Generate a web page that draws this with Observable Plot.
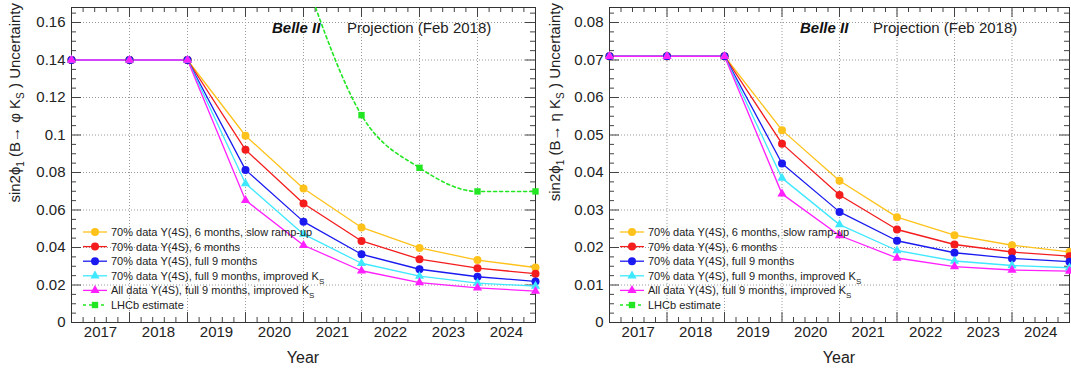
<!DOCTYPE html>
<html><head><meta charset="utf-8">
<script src="https://cdn.jsdelivr.net/npm/d3@7"></script>
<script src="https://cdn.jsdelivr.net/npm/@observablehq/plot@0.6"></script>
<style>
body{margin:0;background:#fff;}
#wrap{display:flex;width:1071px;height:371px;overflow:hidden;}
#wrap svg{display:block;flex:none;}
</style>
</head><body><div id="wrap"></div>
<script>
// ---------- data ----------
const pointYears = [2016.5, 2017.5, 2018.5, 2019.5, 2020.5, 2021.5, 2022.5, 2023.5, 2024.5];
const yearLabels = [2017, 2018, 2019, 2020, 2021, 2022, 2023, 2024];
const seriesNames = [
  "70% data Υ(4S), 6 months, slow ramp-up",
  "70% data Υ(4S), 6 months",
  "70% data Υ(4S), full 9 months",
  "70% data Υ(4S), full 9 months, improved K_S",
  "All data Υ(4S), full 9 months, improved K_S",
  "LHCb estimate"
];
const seriesColors = ["#ffc21a", "#f41c1c", "#1a1af0", "#3ee8ff", "#ff1fff", "#22e622"];
const seriesSymbols = ["circle", "circle", "circle", "triangle", "triangle", "square"];

// sin2phi1 (B -> phi Ks)
const phiSlow   = [0.140, 0.140, 0.140, 0.0996, 0.0715, 0.0507, 0.0398, 0.0333, 0.0293];
const phi6m     = [0.140, 0.140, 0.140, 0.0921, 0.0635, 0.0435, 0.0338, 0.0290, 0.0260];
const phi9m     = [0.140, 0.140, 0.140, 0.0814, 0.0538, 0.0364, 0.0284, 0.0244, 0.0219];
const phi9mKs   = [0.140, 0.140, 0.140, 0.0741, 0.0471, 0.0316, 0.0247, 0.0210, 0.0194];
const phiAllKs  = [0.140, 0.140, 0.140, 0.0652, 0.0412, 0.0276, 0.0213, 0.0185, 0.0167];
const lhcbYears = [2020.5, 2021.5, 2022.5, 2023.5, 2024.5];
const phiLHCb   = [0.186, 0.1106, 0.0825, 0.0699, 0.0699];

// sin2phi1 (B -> eta Ks)
const etaSlow   = [0.0710, 0.0710, 0.0710, 0.0513, 0.0378, 0.0281, 0.0233, 0.0206, 0.0188];
const eta6m     = [0.0710, 0.0710, 0.0710, 0.0477, 0.0340, 0.0248, 0.0208, 0.0188, 0.0177];
const eta9m     = [0.0710, 0.0710, 0.0710, 0.0424, 0.0295, 0.0218, 0.0186, 0.0171, 0.0162];
const eta9mKs   = [0.0710, 0.0710, 0.0710, 0.0385, 0.0261, 0.0192, 0.0164, 0.0152, 0.0146];
const etaAllKs  = [0.0710, 0.0710, 0.0710, 0.0343, 0.0232, 0.0172, 0.0149, 0.0140, 0.0137];

// ---------- drawing ----------
const FONT = "'Liberation Sans', Arial, Helvetica, sans-serif";
const H = 371, MT = 7, MB = 49;
const symbolR = {circle: 4, triangle: 3.4, square: 3.6};

function panel(cfg) {
  const {width, ml, mr, ymax, ystep, series, meson, belleX, projX, legendLineX, legendTextX, ylabelX} = cfg;
  const ph = H - MT - MB, pw = width - ml - mr;
  const x0 = pointYears[0], x1 = pointYears[pointYears.length - 1];
  const majorY = d3.range(0, ymax + 1e-9, ystep).map(v => +v.toFixed(4));
  const minorY = d3.range(0, ymax + 1e-9, ystep / 4).map(v => +v.toFixed(5))
    .filter(v => !majorY.some(m => Math.abs(m - v) < 1e-7));
  const gridXs = pointYears.slice(1, -1);
  const minorX = d3.range(x0, x1 + 1e-9, 0.2).map(v => +v.toFixed(2))
    .filter(v => !pointYears.some(p => Math.abs(p - v) < 1e-6));
  const tickStroke = "#444";
  const marks = [
    Plot.gridX(gridXs, {stroke: "#9a9a9a", strokeOpacity: 1, strokeDasharray: "1,2"}),
    Plot.gridY(majorY.slice(1), {stroke: "#9a9a9a", strokeOpacity: 1, strokeDasharray: "1,2"}),
    Plot.tickX(minorX, {x: d => d, insetTop: ph - 5, stroke: tickStroke}),
    Plot.tickX(minorX, {x: d => d, insetBottom: ph - 5, stroke: tickStroke}),
    Plot.tickX(gridXs, {x: d => d, insetTop: ph - 10, stroke: tickStroke}),
    Plot.tickX(gridXs, {x: d => d, insetBottom: ph - 10, stroke: tickStroke}),
    Plot.tickY(minorY, {y: d => d, insetRight: pw - 5, stroke: tickStroke}),
    Plot.tickY(minorY, {y: d => d, insetLeft: pw - 5, stroke: tickStroke}),
    Plot.tickY(majorY, {y: d => d, insetRight: pw - 10, stroke: tickStroke}),
    Plot.tickY(majorY, {y: d => d, insetLeft: pw - 10, stroke: tickStroke}),
    Plot.frame({stroke: "#333"}),
    Plot.axisX(yearLabels, {tickSize: 0, tickPadding: 4, fontSize: 15, label: null, fill: "#222", tickFormat: d => String(d)}),
    Plot.axisY(majorY, {tickSize: 0, tickPadding: 6, fontSize: 15, label: null, fill: "#222", tickFormat: d => String(+d.toFixed(3))})
  ];
  series.forEach((s, i) => {
    if (!s.values.length) return;
    const rows = s.values.map((v, j) => ({x: s.years[j], y: v}));
    const isLHCb = i === 5;
    marks.push(Plot.line(rows, {
      x: "x", y: "y", stroke: seriesColors[i], strokeWidth: isLHCb ? 1.6 : 1.3,
      strokeDasharray: isLHCb ? "3,3" : null, curve: isLHCb ? "monotone-x" : "linear", clip: true
    }));
  });
  series.forEach((s, i) => {
    if (!s.values.length) return;
    const rows = s.values.map((v, j) => ({x: s.years[j], y: v})).filter(d => d.y <= ymax);
    marks.push(Plot.dot(rows, {
      x: "x", y: "y", fill: seriesColors[i], stroke: "none",
      symbol: () => seriesSymbols[i], r: symbolR[seriesSymbols[i]]
    }));
  });

  const svg = Plot.plot({
    width, height: H, marginTop: MT, marginBottom: MB, marginLeft: ml, marginRight: mr,
    x: {domain: [x0, x1]},
    y: {domain: [0, ymax]},
    style: {fontFamily: FONT, background: "white", overflow: "visible"},
    marks
  });

  const s = d3.select(svg);

  // axis title (x)
  s.append("text").attr("x", ml + pw / 2).attr("y", 363)
    .attr("text-anchor", "middle").attr("font-size", 16).attr("fill", "#222")
    .attr("font-family", FONT).text("Year");

  // axis title (y) with sub-scripts
  const yl = s.append("text")
    .attr("transform", `translate(${ylabelX},3) rotate(-90)`)
    .attr("text-anchor", "end").attr("font-size", 15).attr("fill", "#222")
    .attr("font-family", FONT);
  yl.append("tspan").text("sin2ϕ");
  yl.append("tspan").attr("font-size", 10).attr("dy", 4).text("1");
  yl.append("tspan").attr("dy", -4).text(` (B→ ${meson} K`);
  yl.append("tspan").attr("font-size", 10).attr("dy", 4).text("S");
  yl.append("tspan").attr("dy", -4).text(" ) Uncertainty");

  // header texts
  s.append("text").attr("x", belleX).attr("y", 33).attr("font-size", 15).attr("text-anchor", "start")
    .attr("font-weight", "bold").attr("font-style", "italic").attr("fill", "#111")
    .attr("font-family", FONT).text("Belle II");
  s.append("text").attr("x", projX).attr("y", 33).attr("font-size", 15).attr("fill", "#222")
    .attr("text-anchor", "start").attr("font-family", FONT).text("Projection (Feb 2018)");

  // legend
  const legY0 = 232, legStep = 14.6;
  seriesNames.forEach((name, i) => {
    const y = legY0 + i * legStep;
    const g = s.append("g");
    g.append("line").attr("x1", legendLineX[0]).attr("x2", legendLineX[1])
      .attr("y1", y).attr("y2", y).attr("stroke", seriesColors[i])
      .attr("stroke-width", i === 5 ? 1.6 : 1.3)
      .attr("stroke-dasharray", i === 5 ? "3,3" : null);
    const cx = (legendLineX[0] + legendLineX[1]) / 2;
    const type = {circle: d3.symbolCircle, triangle: d3.symbolTriangle, square: d3.symbolSquare}[seriesSymbols[i]];
    const rr = symbolR[seriesSymbols[i]];
    g.append("path").attr("d", d3.symbol(type, Math.PI * rr * rr)())
      .attr("transform", `translate(${cx},${y})`).attr("fill", seriesColors[i]);
    const t = g.append("text").attr("x", legendTextX).attr("y", y + 4).attr("font-size", 11)
      .attr("text-anchor", "start").attr("fill", "#222").attr("font-family", FONT);
    const parts = name.split("_S");
    t.append("tspan").text(parts[0]);
    if (parts.length > 1) {
      t.append("tspan").attr("font-size", 8).attr("dy", 4).text("S");
    }
  });
  return svg;
}

const wrap = document.getElementById("wrap");
wrap.appendChild(panel({
  width: 540, ml: 71, mr: 5, ymax: 0.168, ystep: 0.02, meson: "φ",
  belleX: 272, projX: 347, legendLineX: [83, 107], legendTextX: 111, ylabelX: 20,
  series: [
    {years: pointYears, values: phiSlow},
    {years: pointYears, values: phi6m},
    {years: pointYears, values: phi9m},
    {years: pointYears, values: phi9mKs},
    {years: pointYears, values: phiAllKs},
    {years: lhcbYears, values: phiLHCb}
  ]
}));
wrap.appendChild(panel({
  width: 531, ml: 69, mr: 2, ymax: 0.084, ystep: 0.01, meson: "η",
  belleX: 800 - 540, projX: 873 - 540, legendLineX: [620 - 540, 644 - 540], legendTextX: 648 - 540, ylabelX: 20,
  series: [
    {years: pointYears, values: etaSlow},
    {years: pointYears, values: eta6m},
    {years: pointYears, values: eta9m},
    {years: pointYears, values: eta9mKs},
    {years: pointYears, values: etaAllKs},
    {years: [], values: []}
  ]
}));
</script>
</body></html>
